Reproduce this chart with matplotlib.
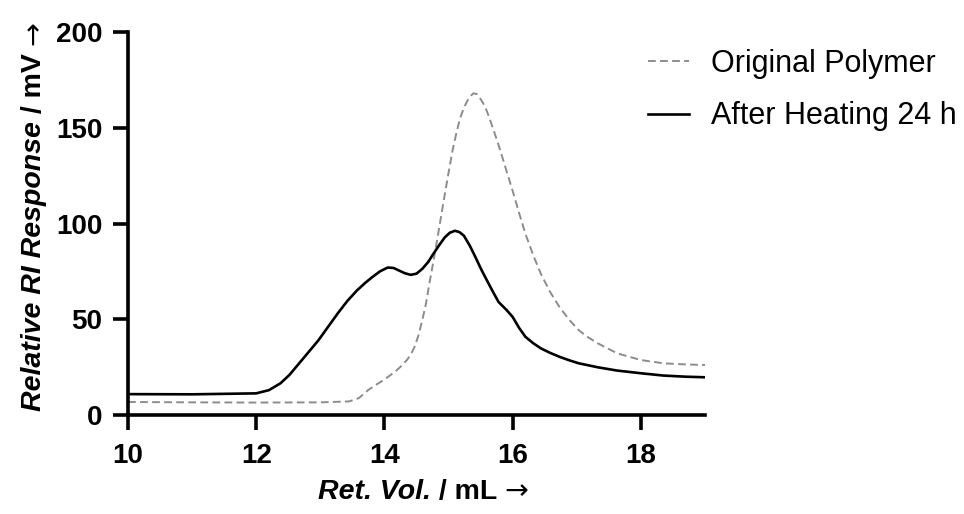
import matplotlib
matplotlib.use("Agg")
import matplotlib.pyplot as plt
import numpy as np

# ---- data ----
black_x = [10.0, 11.0, 12.0, 12.2, 12.38, 12.52, 12.67, 12.82, 12.97, 13.12, 13.27, 13.42, 13.57, 13.7,
           13.81, 13.93, 14.05, 14.14, 14.23, 14.32, 14.41, 14.5, 14.59, 14.68, 14.76, 14.85, 14.94,
           15.02, 15.1, 15.17, 15.24, 15.33, 15.42, 15.51, 15.6, 15.69, 15.78, 15.9, 16.0, 16.1, 16.2,
           16.32, 16.44, 16.58, 16.73, 16.88, 17.03, 17.33, 17.63, 18.0, 18.35, 18.7, 19.0]
black_y = [10.9, 10.8, 11.3, 13.0, 16.6, 21.0, 27.0, 33.0, 39.0, 46.0, 53.0, 59.5, 65.0, 69.0,
           72.0, 75.0, 77.0, 76.8, 75.4, 74.0, 73.2, 73.8, 76.3, 79.8, 84.0, 88.5, 92.7,
           95.2, 96.2, 95.5, 93.6, 88.5, 82.4, 76.0, 70.2, 64.5, 59.0, 55.0, 51.2, 45.5, 40.8,
           37.5, 34.8, 32.5, 30.4, 28.6, 27.0, 24.9, 23.2, 21.8, 20.6, 20.0, 19.7]

gray_x = [10.0, 11.0, 12.0, 13.0, 13.45, 13.6, 13.75, 13.87, 13.99, 14.08, 14.17, 14.26, 14.35, 14.41,
          14.47, 14.53, 14.59, 14.65, 14.7, 14.76, 14.82, 14.88, 14.94, 15.0, 15.06, 15.12, 15.18,
          15.24, 15.3, 15.35, 15.39, 15.44, 15.48, 15.54, 15.6, 15.69, 15.78, 15.89, 16.0, 16.1,
          16.2, 16.32, 16.44, 16.58, 16.73, 16.88, 17.03, 17.18, 17.33, 17.63, 18.0, 18.35, 18.7, 19.0]
gray_y = [6.8, 6.6, 6.5, 6.6, 7.1, 8.8, 13.1, 15.8, 18.3, 20.5, 22.7, 25.5, 28.7, 31.5,
          35.6, 41.5, 49.5, 58.5, 68.5, 79.5, 91.0, 103.0, 115.0, 126.5, 137.7, 147.0, 155.0,
          160.5, 164.5, 166.8, 168.0, 167.6, 166.0, 162.8, 158.5, 150.0, 141.0, 129.0, 117.0, 105.5,
          94.5, 83.5, 73.7, 64.5, 56.4, 49.8, 44.3, 40.5, 37.4, 32.2, 28.7, 27.0, 26.4, 26.1]

series_labels = ["Original Polymer", "After Heating 24 h"]
x_ticks = [10, 12, 14, 16, 18]
y_ticks = [0, 50, 100, 150, 200]

W, H = 964, 514
plt.rcParams['font.family'] = ['Liberation Sans', 'DejaVu Sans']
fig = plt.figure(figsize=(W / 100, H / 100), dpi=100)
ax = fig.add_axes([128 / W, (H - 415) / H, 577 / W, 383 / H])

ax.plot(gray_x, gray_y, color='#8c8c8c', lw=1.4, ls=(0, (4.0, 2.2)), label=series_labels[0])
ax.plot(black_x, black_y, color='black', lw=1.9, label=series_labels[1])

ax.set_xlim(10, 19)
ax.set_ylim(0, 200)
ax.set_xticks(x_ticks)
ax.set_yticks(y_ticks)
for s in ['top', 'right']:
    ax.spines[s].set_visible(False)
for s in ['left', 'bottom']:
    ax.spines[s].set_linewidth(2.6)
    ax.spines[s].set_capstyle('projecting')
ax.tick_params(axis='both', direction='out', length=10.5, width=2.6, labelsize=20)
ax.tick_params(axis='x', pad=10)
ax.tick_params(axis='y', pad=8)
for lab in ax.get_xticklabels() + ax.get_yticklabels():
    lab.set_fontweight('bold')

leg = ax.legend(loc='center left', bbox_to_anchor=(648 / W, 1 - 90 / H),
                bbox_transform=fig.transFigure, frameon=False, fontsize=22,
                handlelength=1.35, handletextpad=0.7, labelspacing=0.74,
                borderpad=0, borderaxespad=0)

# ---- composite axis labels ----
renderer = fig.canvas.get_renderer()


def composite(pieces, cx, cy, rotation=0, size=18):
    texts = []
    for s, kw in pieces:
        t = fig.text(0, 0, s, fontsize=size, rotation=rotation, rotation_mode='anchor',
                     ha='left', va='baseline', **kw)
        texts.append(t)
    lengths = []
    for t in texts:
        bb = t.get_window_extent(renderer)
        lengths.append(bb.height if rotation == 90 else bb.width)
    total = sum(lengths)
    pos = -total / 2
    for t, L in zip(texts, lengths):
        if rotation == 90:
            t.set_position((cx / W, (H - cy + pos) / H))
        else:
            t.set_position(((cx + pos) / W, (H - cy) / H))
        pos += L


composite([("Ret. Vol.", dict(fontweight='bold', fontstyle='italic')),
           (" / mL ", dict(fontweight='bold')),
           ("\u2192", dict(fontweight='normal', family='DejaVu Sans'))],
          cx=423, cy=499, rotation=0, size=20.5)

composite([("Relative RI Response", dict(fontweight='bold', fontstyle='italic')),
           (" / mV ", dict(fontweight='bold')),
           ("\u2192", dict(fontweight='normal', family='DejaVu Sans'))],
          cx=41, cy=216, rotation=90, size=20.5)

fig.savefig('out.png', dpi=100)
